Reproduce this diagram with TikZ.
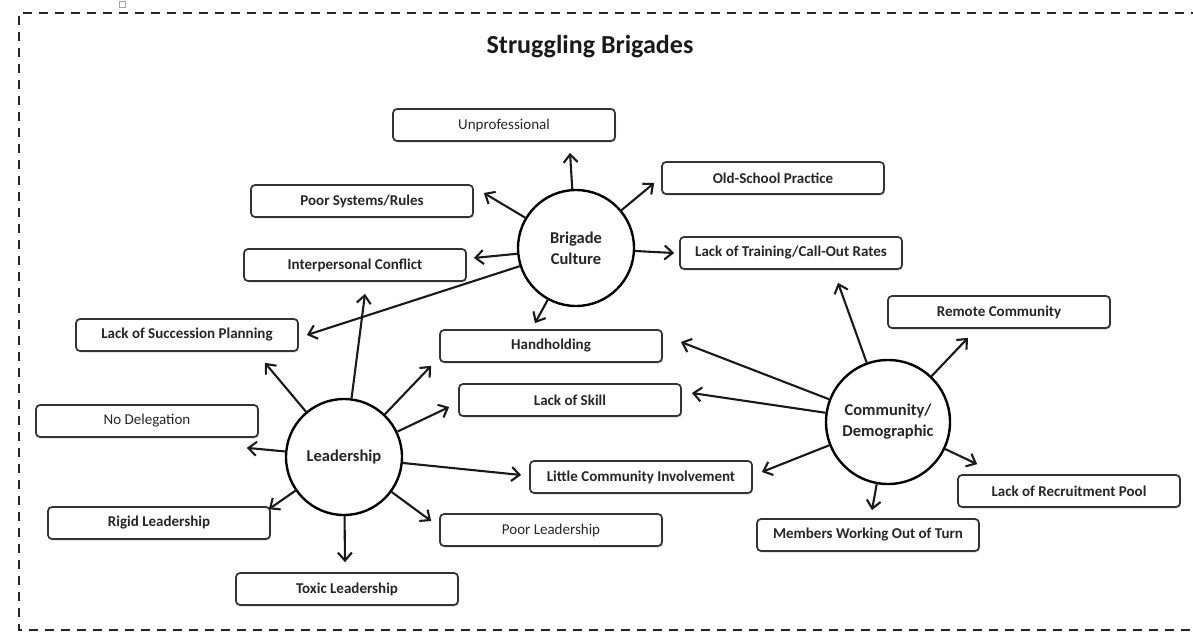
\documentclass[tikz,border=0pt]{standalone}
\usepackage{fontspec}
\setmainfont{Carlito}
\usetikzlibrary{arrows.meta,shadows}
\begin{document}
\begin{tikzpicture}[x=1pt,y=1pt,
  box/.style={draw=black!80, line width=1.7pt, rounded corners=4pt, fill=white,
    minimum width=222pt, minimum height=32pt, inner sep=2pt, text=black!85,
    font=\fontsize{15}{17}\selectfont\bfseries,
    drop shadow={shadow xshift=1.2pt, shadow yshift=-1.5pt, opacity=0.25, fill=black!60}},
  plain/.style={font=\fontsize{15}{17}\selectfont},
  hub/.style={circle, draw=black, line width=2.4pt, fill=white, minimum size=116pt,
    align=center, text=black!85, font=\fontsize{16.5}{21}\selectfont\bfseries},
  arr/.style={-{Straight Barb[length=8pt,width=14pt,line width=2.1pt]}, line width=2.1pt, black!90},
  frame/.style={line width=2.6pt, black!85, dash pattern=on 9pt off 7pt}
]
\useasboundingbox (0,0) rectangle (1193,-634);
% outer dashed frame (open on the right)
\draw[frame] (1200,-13) -- (19,-13) -- (19,-630) -- (1200,-630);
\draw[black!35, line width=0.6pt] (119,-1) rectangle (125,-7);

\node[font=\fontsize{26}{30}\selectfont\bfseries, text=black!90] (title) at (590,-47) {Struggling Brigades};

% boxes
\node[box, plain] (unp) at (504,-125) {Unprofessional};
\node[box] (osp) at (773,-178) {Old-School Practice};
\node[box] (psr) at (362,-201) {Poor Systems/Rules};
\node[box] (ltr) at (791,-253) {Lack of Training/Call-Out Rates};
\node[box] (ipc) at (355,-265) {Interpersonal Conflict};
\node[box] (rem) at (999,-312) {Remote Community};
\node[box] (suc) at (187,-335) {Lack of Succession Planning};
\node[box] (hh)  at (551,-346) {Handholding};
\node[box] (lsk) at (570,-400) {Lack of Skill};
\node[box, plain] (nod) at (147,-421) {No Delegation};
\node[box] (lci) at (641,-477) {Little Community Involvement};
\node[box] (rec) at (1069,-491) {Lack of Recruitment Pool};
\node[box] (rig) at (159,-523) {Rigid Leadership};
\node[box, plain] (pld) at (551,-530) {Poor Leadership};
\node[box] (mwt) at (868,-535) {Members Working Out of Turn};
\node[box] (tox) at (347,-589) {Toxic Leadership};

% hubs
\node[hub] (bc) at (576,-248) {Brigade\\Culture};
\node[hub] (ld) at (344,-457) {Leadership};
\node[hub, minimum size=124pt] (cd) at (888,-422) {Community/\\Demographic};

% Brigade Culture arrows
\draw[arr] (bc) -- ([xshift=66pt,yshift=-11pt]unp.south);
\draw[arr] (bc) -- ([xshift=-7pt,yshift=-5pt]osp.west);
\draw[arr] (bc) -- ([xshift=10pt,yshift=8pt]psr.east);
\draw[arr] (bc) -- ([xshift=-5pt]ltr.west);
\draw[arr] (bc) -- ([xshift=7pt,yshift=7pt]ipc.east);
\draw[arr] (bc) -- ([xshift=8pt]suc.east);
\draw[arr] (bc) -- ([xshift=-16pt,yshift=6pt]hh.north);

% Leadership arrows
\draw[arr] (ld) -- ([xshift=10pt,yshift=-12pt]ipc.south);
\draw[arr] (ld) -- ([xshift=78pt,yshift=-11pt]suc.south);
\draw[arr] (ld) -- ([xshift=-8pt,yshift=-3pt]hh.south west);
\draw[arr] (ld) -- ([xshift=-9pt,yshift=-7pt]lsk.west);
\draw[arr] (ld) -- ([xshift=-12pt,yshift=-10pt]nod.south east);
\draw[arr] (ld) -- ([xshift=-8pt,yshift=2pt]lci.west);
\draw[arr] (ld) -- ([xshift=-2pt,yshift=-3pt]rig.north east);
\draw[arr] (ld) -- ([xshift=-8pt,yshift=9pt]pld.west);
\draw[arr] (ld) -- ([xshift=-2pt,yshift=10pt]tox.north);

% Community/Demographic arrows
\draw[arr] (cd) -- ([xshift=47pt,yshift=-13pt]ltr.south);
\draw[arr] (cd) -- ([xshift=-31pt,yshift=-9pt]rem.south);
\draw[arr] (cd) -- ([xshift=18pt,yshift=4pt]hh.east);
\draw[arr] (cd) -- ([xshift=10pt,yshift=7pt]lsk.east);
\draw[arr] (cd) -- ([xshift=9pt,yshift=5pt]lci.east);
\draw[arr] (cd) -- ([xshift=20pt,yshift=10pt]rec.north west);
\draw[arr] (cd) -- ([xshift=4pt,yshift=8pt]mwt.north);
\end{tikzpicture}
\end{document}
